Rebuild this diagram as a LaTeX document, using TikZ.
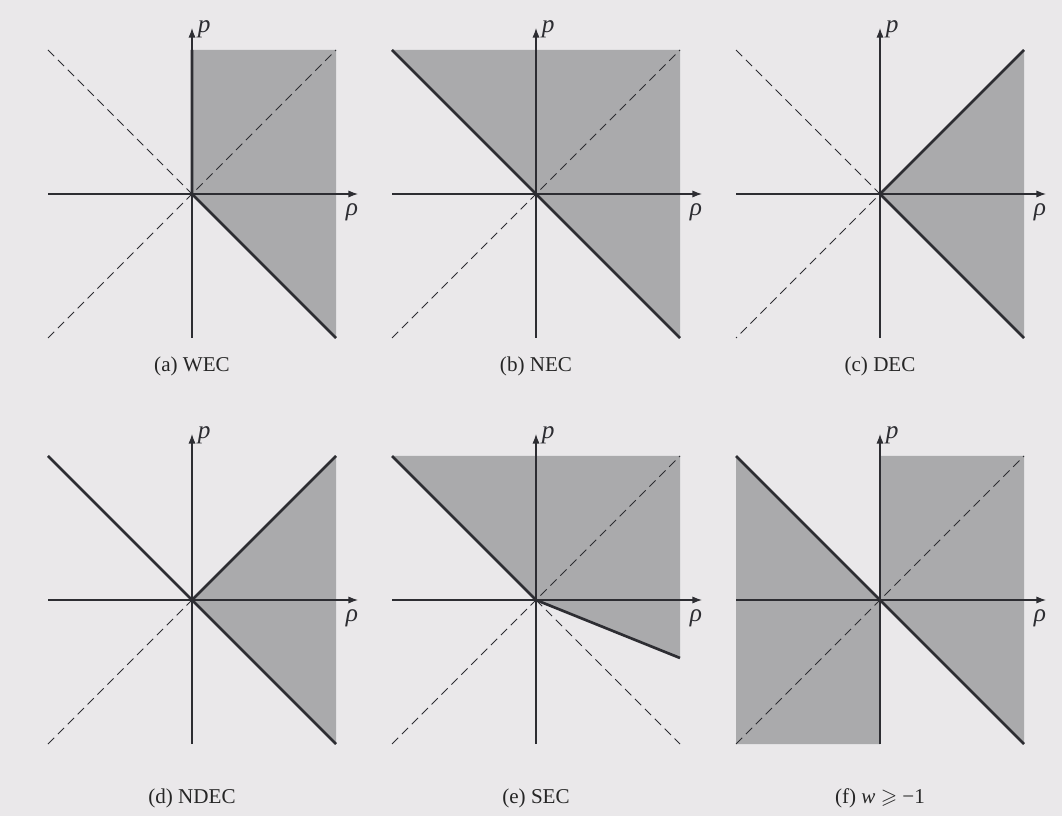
\documentclass[tikz,border=0pt]{standalone}
\usepackage{amsmath,amssymb}
\usepackage{fontspec}
\setmainfont{Liberation Serif}
\usepackage{tikz}
\usetikzlibrary{arrows.meta}
\definecolor{paper}{RGB}{234,232,234}
\definecolor{regiongray}{RGB}{170,170,172}
\definecolor{ink}{RGB}{45,45,50}

\begin{document}
\begin{tikzpicture}[
  axis/.style={-{Latex[length=2.4mm,width=1.8mm]}, line width=0.9pt, color=ink},
  bound/.style={line width=1.9pt, color=ink},
  cone/.style={dash pattern=on 2.2mm off 1.3mm, line width=0.7pt, color=ink},
  region/.style={fill=regiongray, draw=none},
  lbl/.style={font=\fontsize{18}{21}\selectfont\itshape, color=ink, inner sep=2pt},
  rholbl/.style={lbl, below, xshift=-1.5mm, yshift=-1.6mm},
  plbl/.style={lbl, right, xshift=0.6mm, yshift=-0.4mm},
  captext/.style={font=\fontsize{15}{18}\selectfont, color=black!85}
]
  \fill[paper] (0,0) rectangle (26.55,20.4);
  \useasboundingbox (0,0) rectangle (26.55,20.4);

  % (a) WEC
  \begin{scope}[shift={(4.8,15.55)}]
    \fill[region] (0,0) -- (0,3.6) -- (3.6,3.6) -- (3.6,-3.6) -- cycle;
    \draw[cone] (-3.6,3.6) -- (0,0);
    \draw[cone] (-3.6,-3.6) -- (3.6,3.6);
    \draw[axis] (-3.6,0) -- (4.15,0) node[rholbl] (rhoa) {ρ};
    \draw[axis] (0,-3.6) -- (0,4.15) node[plbl] (pa) {p};
    \draw[bound] (0,3.6) -- (0,0) -- (3.6,-3.6);
    \node[captext] (capa) at (0,-4.3) {(a) WEC};
  \end{scope}

  % (b) NEC
  \begin{scope}[shift={(13.4,15.55)}]
    \fill[region] (-3.6,3.6) -- (3.6,3.6) -- (3.6,-3.6) -- cycle;
    \draw[cone] (-3.6,-3.6) -- (3.6,3.6);
    \draw[axis] (-3.6,0) -- (4.15,0) node[rholbl] (rhob) {ρ};
    \draw[axis] (0,-3.6) -- (0,4.15) node[plbl] (pb) {p};
    \draw[bound] (-3.6,3.6) -- (3.6,-3.6);
    \node[captext] (capb) at (0,-4.3) {(b) NEC};
  \end{scope}

  % (c) DEC
  \begin{scope}[shift={(22.0,15.55)}]
    \fill[region] (0,0) -- (3.6,3.6) -- (3.6,-3.6) -- cycle;
    \draw[cone] (-3.6,3.6) -- (0,0) -- (-3.6,-3.6);
    \draw[axis] (-3.6,0) -- (4.15,0) node[rholbl] (rhoc) {ρ};
    \draw[axis] (0,-3.6) -- (0,4.15) node[plbl] (pc) {p};
    \draw[bound] (3.6,3.6) -- (0,0) -- (3.6,-3.6);
    \node[captext] (capc) at (0,-4.3) {(c) DEC};
  \end{scope}

  % (d) NDEC
  \begin{scope}[shift={(4.8,5.4)}]
    \fill[region] (0,0) -- (3.6,3.6) -- (3.6,-3.6) -- cycle;
    \draw[cone] (-3.6,-3.6) -- (0,0);
    \draw[axis] (-3.6,0) -- (4.15,0) node[rholbl] (rhod) {ρ};
    \draw[axis] (0,-3.6) -- (0,4.15) node[plbl] (pd) {p};
    \draw[bound] (-3.6,3.6) -- (3.6,-3.6);
    \draw[bound] (0,0) -- (3.6,3.6);
    \node[captext] (capd) at (0,-4.95) {(d) NDEC};
  \end{scope}

  % (e) SEC
  \begin{scope}[shift={(13.4,5.4)}]
    \fill[region] (-3.6,3.6) -- (3.6,3.6) -- (3.6,-1.45) -- (0,0) -- cycle;
    \draw[cone] (-3.6,-3.6) -- (3.6,3.6);
    \draw[cone] (0,0) -- (3.6,-3.6);
    \draw[axis] (-3.6,0) -- (4.15,0) node[rholbl] (rhoe) {ρ};
    \draw[axis] (0,-3.6) -- (0,4.15) node[plbl] (pe) {p};
    \draw[bound] (-3.6,3.6) -- (0,0) -- (3.6,-1.45);
    \node[captext] (cape) at (0,-4.95) {(e) SEC};
  \end{scope}

  % (f) w >= -1
  \begin{scope}[shift={(22.0,5.4)}]
    \fill[region] (0,0) -- (0,3.6) -- (3.6,3.6) -- (3.6,-3.6) -- cycle;
    \fill[region] (0,0) -- (-3.6,3.6) -- (-3.6,-3.6) -- (0,-3.6) -- cycle;
    \draw[cone] (-3.6,-3.6) -- (3.6,3.6);
    \draw[axis] (-3.6,0) -- (4.15,0) node[rholbl] (rhof) {ρ};
    \draw[axis] (0,-3.6) -- (0,4.15) node[plbl] (pf) {p};
    \draw[bound] (0,-3.6) -- (0,3.6);
    \draw[bound] (-3.6,3.6) -- (3.6,-3.6);
    \node[captext] (capf) at (0,-4.95) {(f) \textit{w} $\geqslant$ −1};
  \end{scope}
\end{tikzpicture}
\end{document}
